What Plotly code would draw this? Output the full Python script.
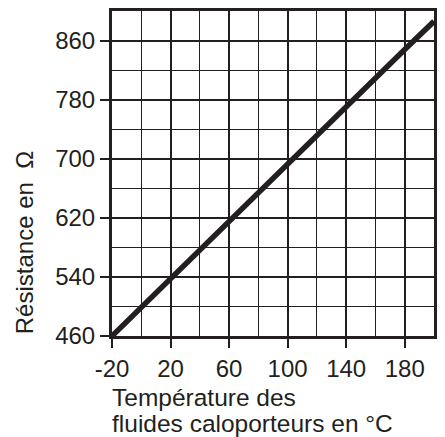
import plotly.graph_objects as go

# Data
temperature = [-20, 20, 60, 100, 140, 180, 200]
resistance = [460, 538, 616, 694, 772, 848, 886]

x_ticks = [-20, 20, 60, 100, 140, 180]
y_ticks = [460, 540, 620, 700, 780, 860]

ink = "#231f20"
font_family = "Liberation Sans, Arial, sans-serif"

fig = go.Figure()
fig.add_trace(go.Scatter(
    x=temperature, y=resistance, mode="lines",
    line=dict(color=ink, width=5.5), showlegend=False, hoverinfo="skip",
))

fig.update_layout(
    width=445, height=437,
    margin=dict(l=112, r=8, t=11, b=101),
    paper_bgcolor="white", plot_bgcolor="white",
    font=dict(family=font_family, size=24, color=ink),
    xaxis=dict(
        range=[-20, 200], tickvals=x_ticks, ticktext=[str(v) for v in x_ticks],
        showgrid=True, gridcolor=ink, gridwidth=2,
        minor=dict(dtick=20, tick0=-20, showgrid=True, gridcolor=ink, gridwidth=1.4),
        showline=True, linecolor=ink, linewidth=3, mirror=True,
        ticks="outside", ticklen=9, tickwidth=2, tickcolor=ink,
        zeroline=False, fixedrange=True,
    ),
    yaxis=dict(
        range=[460, 900], tickvals=y_ticks, ticktext=[str(v) for v in y_ticks],
        showgrid=True, gridcolor=ink, gridwidth=2,
        minor=dict(dtick=40, tick0=460, showgrid=True, gridcolor=ink, gridwidth=1.4),
        showline=True, linecolor=ink, linewidth=3, mirror=True,
        ticks="outside", ticklen=9, tickwidth=2, tickcolor=ink,
        zeroline=False, fixedrange=True,
    ),
    annotations=[
        dict(text="Température des",
             xref="paper", yref="paper", x=-0.005, y=-0.1415,
             xanchor="left", yanchor="top", align="left", showarrow=False,
             font=dict(size=24.5, color=ink, family=font_family)),
        dict(text="fluides caloporteurs en °C",
             xref="paper", yref="paper", x=-0.005, y=-0.2215,
             xanchor="left", yanchor="top", align="left", showarrow=False,
             font=dict(size=24.5, color=ink, family=font_family)),
        dict(text="Résistance en  Ω",
             xref="paper", yref="paper", x=-0.271, y=0,
             xanchor="center", yanchor="bottom", textangle=-90, showarrow=False,
             font=dict(size=24, color=ink, family=font_family)),
    ],
)

fig.write_html("out.html")
